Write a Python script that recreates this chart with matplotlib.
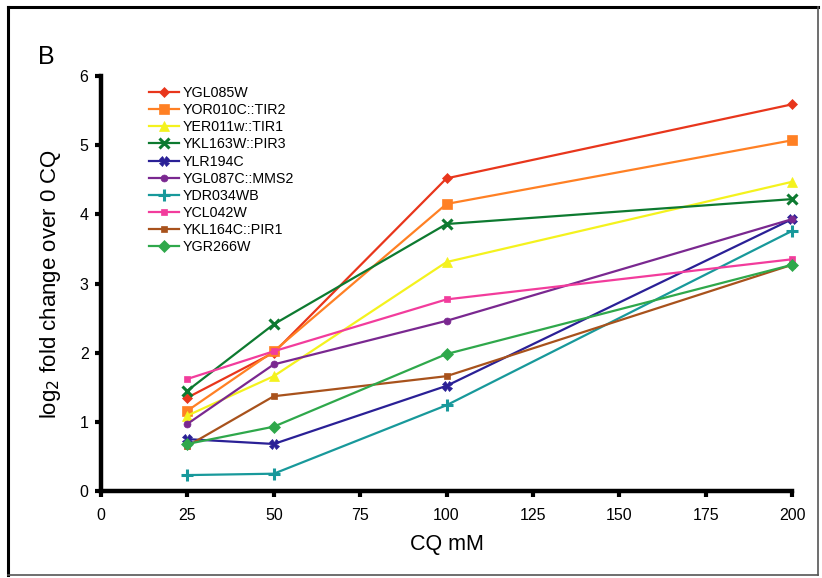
import matplotlib
matplotlib.use("Agg")
import matplotlib.pyplot as plt
from matplotlib.lines import Line2D

plt.rcParams['font.family'] = ['Liberation Sans', 'DejaVu Sans']

# CQ concentrations (mM)
doses = [25, 50, 100, 200]

# log2 fold change over 0 CQ for each gene
genes = ["YGL085W", "YOR010C::TIR2", "YER011w::TIR1", "YKL163W::PIR3",
         "YLR194C", "YGL087C::MMS2", "YDR034WB", "YCL042W",
         "YKL164C::PIR1", "YGR266W"]
YGL085W = [1.35, 2.00, 4.52, 5.59]
YOR010C = [1.16, 2.02, 4.15, 5.07]
YER011w = [1.09, 1.66, 3.31, 4.47]
YKL163W = [1.45, 2.41, 3.86, 4.22]
YLR194C = [0.75, 0.68, 1.52, 3.93]
YGL087C = [0.97, 1.83, 2.46, 3.93]
YDR034WB = [0.23, 0.25, 1.24, 3.76]
YCL042W = [1.62, 2.02, 2.77, 3.35]
YKL164C = [0.65, 1.37, 1.66, 3.27]
YGR266W = [0.68, 0.93, 1.98, 3.27]
series = [YGL085W, YOR010C, YER011w, YKL163W, YLR194C,
          YGL087C, YDR034WB, YCL042W, YKL164C, YGR266W]

x_ticks = [0, 25, 50, 75, 100, 125, 150, 175, 200]
y_ticks = [0, 1, 2, 3, 4, 5, 6]

colors = ["#E8361C", "#FF8024", "#F4F21E", "#0D7A30", "#2A2096",
          "#7A2890", "#18999B", "#F23C9C", "#A8521C", "#2FA84B"]
markers = ["D", "s", "^", "x", "X", "o", "+", "s", "s", "D"]
msizes = [5, 7, 7, 7, 7, 5, 8, 4, 4, 6]

fig = plt.figure(figsize=(8.22, 5.78), dpi=100)
ax = fig.add_axes([101 / 822, 87 / 578, 691 / 822, 415 / 578])

for vals, name, c, m, ms in zip(series, genes, colors, markers, msizes):
    kw = dict(markeredgewidth=2.2) if m in ("x", "+") else dict(markeredgewidth=0.5)
    ax.plot(doses, vals, color=c, marker=m, markersize=ms, linewidth=1.6,
            markeredgecolor=c, label=name, clip_on=False, **kw)

ax.set_xlim(0, 200)
ax.set_ylim(0, 6)
ax.set_xticks(x_ticks)
ax.set_yticks(y_ticks)
for s in ("top", "right"):
    ax.spines[s].set_visible(False)
for s in ("left", "bottom"):
    ax.spines[s].set_linewidth(3.2)
ax.tick_params(axis="both", direction="out", length=4, width=3, labelsize=11.5)
ax.tick_params(axis="x", pad=8)
ax.tick_params(axis="y", pad=5)

ax.set_xlabel("CQ mM", fontsize=15.5, labelpad=8)
ax.set_ylabel(r"log$_2$ fold change over 0 CQ", fontsize=16, labelpad=12)

leg = ax.legend(loc="upper left", bbox_to_anchor=(0.055, 1.0), frameon=False,
                fontsize=10.3, handlelength=2.1, handletextpad=0.25,
                labelspacing=0.22, borderaxespad=0.3)

fig.text(38 / 822, 1 - 64 / 578, "B", fontsize=18)

# panel frame
fig.add_artist(Line2D([8 / 822, 8 / 822], [1 - 7 / 578, 1 - 575 / 578],
                      transform=fig.transFigure, color="black", linewidth=2.2))
fig.add_artist(Line2D([8 / 822, 818 / 822], [1 - 7 / 578, 1 - 7 / 578],
                      transform=fig.transFigure, color="black", linewidth=2.2))
fig.add_artist(Line2D([818 / 822, 818 / 822], [1 - 7 / 578, 1 - 575 / 578],
                      transform=fig.transFigure, color="#555555", linewidth=1.2))
fig.add_artist(Line2D([8 / 822, 818 / 822], [1 - 575 / 578, 1 - 575 / 578],
                      transform=fig.transFigure, color="#555555", linewidth=1.2))

fig.savefig("out.png", dpi=100)
